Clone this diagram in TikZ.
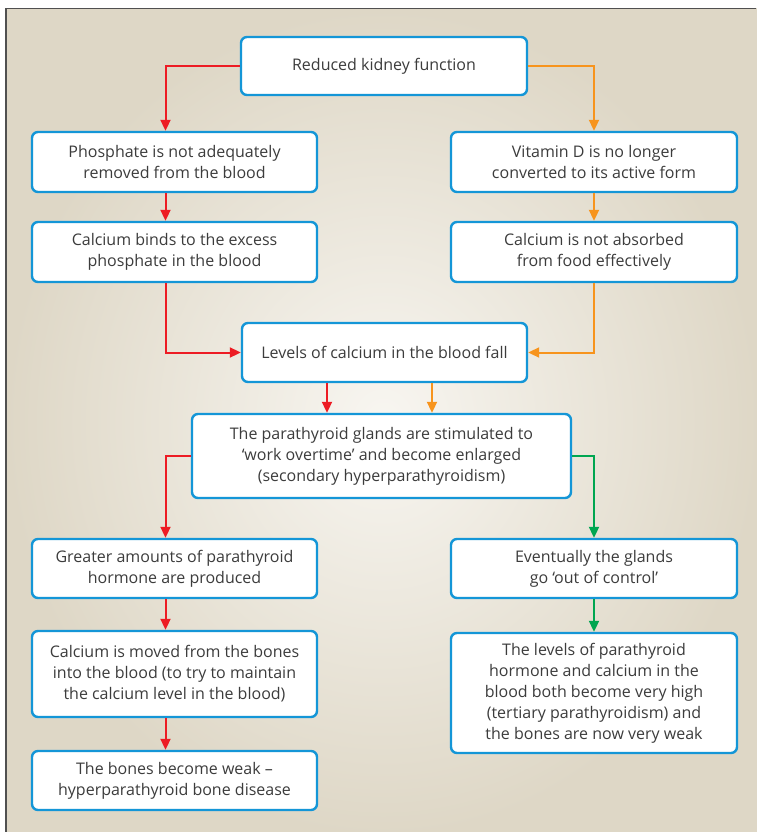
\documentclass[tikz,border=0pt]{standalone}
\usepackage{fontspec}
\setmainfont{Open Sans}
\usetikzlibrary{arrows.meta,calc}
\definecolor{boxblue}{RGB}{20,150,215}
\definecolor{ared}{RGB}{237,28,36}
\definecolor{aorange}{RGB}{247,148,29}
\definecolor{agreen}{RGB}{0,166,81}
\definecolor{txt}{RGB}{60,60,60}
\definecolor{bgout}{RGB}{222,215,198}
\definecolor{bgin}{RGB}{248,246,241}
\definecolor{frame}{RGB}{80,80,80}
\tikzset{
  box/.style={draw=boxblue, line width=2.4pt, rounded corners=6pt, fill=white,
    inner sep=0pt, align=center, text=txt, font=\fontsize{16}{21}\selectfont},
  arr/.style={line width=2pt, -{Triangle[length=11pt,width=10pt]}},
}
\begin{document}
\begin{tikzpicture}[x=1pt,y=-1pt]
\useasboundingbox (0,0) rectangle (756,832);
\fill[white] (0,0) rectangle (756,832);
\shade[inner color=bgin, outer color=bgout] (6,8.5) rectangle (760,836);
\draw[frame, line width=1.5pt] (6,832) -- (6,8.5) -- (756,8.5);

\node[box, minimum width=286pt, minimum height=58pt] (top) at (384,66) {Reduced kidney function};
\node[box, minimum width=285pt, minimum height=60pt] (phos) at (174.5,162) {Phosphate is not adequately\\removed from the blood};
\node[box, minimum width=286pt, minimum height=60pt] (vitd) at (594,162) {Vitamin D is no longer\\converted to its active form};
\node[box, minimum width=285pt, minimum height=60pt] (cabind) at (174.5,252) {Calcium binds to the excess\\phosphate in the blood};
\node[box, minimum width=286pt, minimum height=60pt] (caabs) at (594,252) {Calcium is not absorbed\\from food effectively};
\node[box, minimum width=285pt, minimum height=59pt] (levels) at (384.5,352.5) {Levels of calcium in the blood fall};
\node[box, minimum width=379pt, minimum height=84pt] (para) at (381.5,456) {The parathyroid glands are stimulated to\\`work overtime' and become enlarged\\(secondary hyperparathyroidism)};
\node[box, minimum width=285pt, minimum height=59pt] (greater) at (174.5,568.5) {Greater amounts of parathyroid\\hormone are produced};
\node[box, minimum width=286pt, minimum height=59pt] (event) at (594,568.5) {Eventually the glands\\go `out of control'};
\node[box, minimum width=285pt, minimum height=86pt] (moved) at (174.5,674) {Calcium is moved from the bones\\into the blood (to try to maintain\\the calcium level in the blood)};
\node[box, minimum width=286pt, minimum height=120pt] (high) at (594,693) {The levels of parathyroid\\hormone and calcium in the\\blood both become very high\\(tertiary parathyroidism) and\\the bones are now very weak};
\node[box, minimum width=285pt, minimum height=59pt] (bones) at (174.5,780.5) {The bones become weak --\\hyperparathyroid bone disease};

\coordinate (rl) at (165.5,0);
\coordinate (ol) at (594,0);
\coordinate (lr) at (327,0);
\coordinate (lo) at (432,0);

\draw[arr, ared] (top.west) -| (rl |- phos.north);
\draw[arr, aorange] (top.east) -| (ol |- vitd.north);
\draw[arr, ared] (rl |- phos.south) -- (rl |- cabind.north);
\draw[arr, aorange] (ol |- vitd.south) -- (ol |- caabs.north);
\draw[arr, ared] (rl |- cabind.south) |- (levels.west);
\draw[arr, aorange] (ol |- caabs.south) |- (levels.east);
\draw[arr, ared] (lr |- levels.south) -- (lr |- para.north);
\draw[arr, aorange] (lo |- levels.south) -- (lo |- para.north);
\draw[arr, ared] (para.west) -| (rl |- greater.north);
\draw[arr, agreen] (para.east) -| (ol |- event.north);
\draw[arr, ared] (rl |- greater.south) -- (rl |- moved.north);
\draw[arr, agreen] (ol |- event.south) -- (ol |- high.north);
\draw[arr, ared] (rl |- moved.south) -- (rl |- bones.north);
\end{tikzpicture}
\end{document}
